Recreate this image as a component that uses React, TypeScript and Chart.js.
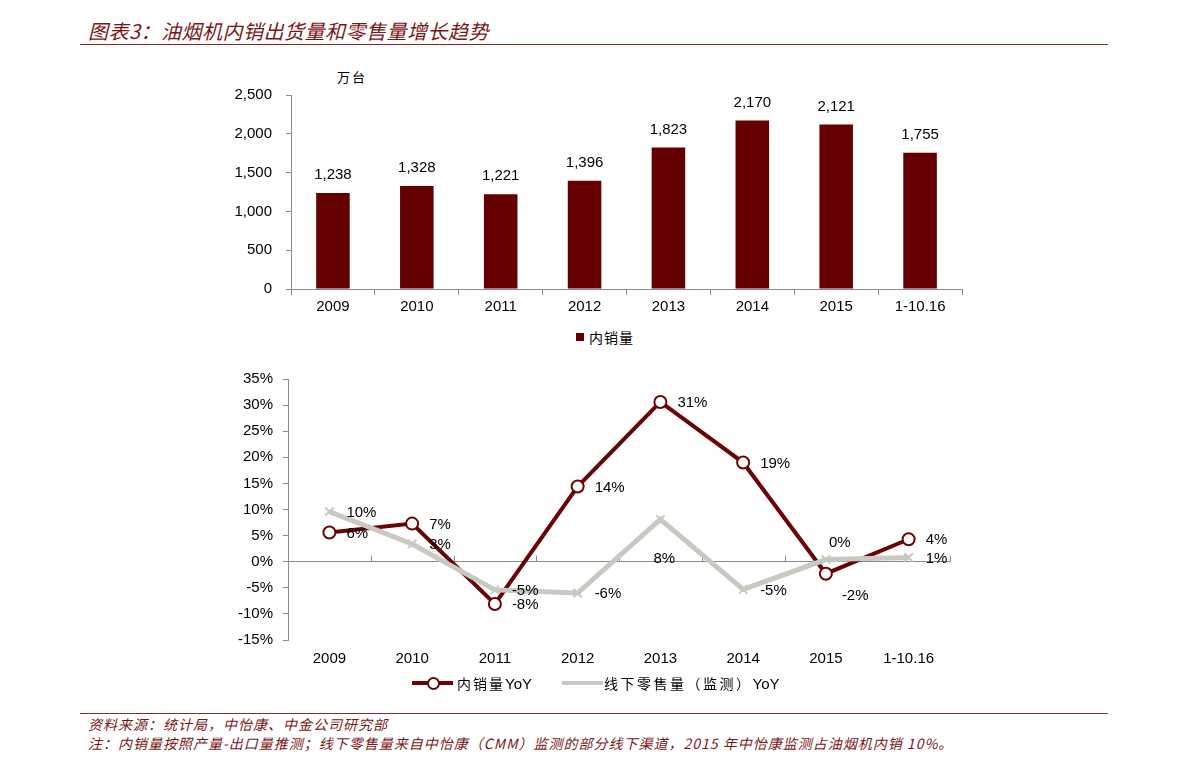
import React, { useEffect, useRef } from "react";
import { Chart, registerables } from "chart.js";

Chart.register(...registerables);

// ---------- data ----------
const categories = ["2009", "2010", "2011", "2012", "2013", "2014", "2015", "1-10.16"];
const domesticSales = [1238, 1328, 1221, 1396, 1823, 2170, 2121, 1755];
const domesticYoY = [5.6, 7.3, -8.1, 14.4, 30.6, 19.0, -2.3, 4.3];
const domesticYoYLabels = ["6%", "7%", "-8%", "14%", "31%", "19%", "-2%", "4%"];
const retailYoY = [9.6, 3.4, -5.4, -6.0, 8.1, -5.3, 0.4, 0.8];
const retailYoYLabels = ["10%", "3%", "-5%", "-6%", "8%", "-5%", "0%", "1%"];
// label placement codes (style only)
const domesticLabelPos = ["r", "r", "r", "r", "r", "r", "b", "r"];
const retailLabelPos = ["r", "r", "r", "r", "bb", "r", "a", "r"];

const DARK_RED = "#650000";
const LINE_RED = "#6A0303";
const GRAY = "#C9C9C1";
const AXIS = "#8A8A8A";
const TEXT_RED = "#7A1616";
const FONT = "'Liberation Sans', Arial, sans-serif";
const CJK = "'Noto Sans CJK SC', 'Noto Sans CJK TC', sans-serif";

const PLACE: Record<string, [number, number]> = {
  r: [17, 1],
  b: [16, 22],
  bb: [-7, 39],
  a: [3, -17],
};

const barLabelPlugin = {
  id: "barLabels",
  afterDatasetsDraw(chart: any) {
    const ctx = chart.ctx;
    const meta = chart.getDatasetMeta(0);
    ctx.save();
    ctx.font = `15px ${FONT}`;
    ctx.fillStyle = "#000";
    ctx.textAlign = "center";
    ctx.textBaseline = "middle";
    meta.data.forEach((el: any, i: number) => {
      ctx.fillText(domesticSales[i].toLocaleString("en-US"), el.x, el.y - 18);
    });
    ctx.restore();
  },
};

const lineLabelPlugin = {
  id: "lineLabels",
  afterDatasetsDraw(chart: any) {
    const ctx = chart.ctx;
    ctx.save();
    ctx.font = `15px ${FONT}`;
    ctx.fillStyle = "#000";
    ctx.textAlign = "left";
    ctx.textBaseline = "middle";
    chart.data.datasets.forEach((ds: any, di: number) => {
      const meta = chart.getDatasetMeta(di);
      const labels: string[] = ds.valueLabels;
      const pos: string[] = ds.labelPos;
      meta.data.forEach((el: any, i: number) => {
        const [dx, dy] = PLACE[pos[i]];
        ctx.fillText(labels[i], el.x + dx, el.y + dy);
      });
    });
    ctx.restore();
  },
};

const zeroTickPlugin = {
  id: "zeroTicks",
  beforeDatasetsDraw(chart: any) {
    const ctx = chart.ctx;
    const x = chart.scales.x;
    const y0 = chart.scales.y.getPixelForValue(0);
    ctx.save();
    ctx.strokeStyle = AXIS;
    ctx.lineWidth = 1;
    ctx.beginPath();
    for (let i = 0; i <= categories.length; i++) {
      const px = Math.round(x.left + (i * (x.right - x.left)) / categories.length) + 0.5;
      ctx.moveTo(px, y0 - 6);
      ctx.lineTo(px, y0);
    }
    ctx.stroke();
    ctx.restore();
  },
};

function BarChart() {
  const ref = useRef<HTMLCanvasElement>(null);
  useEffect(() => {
    const chart = new Chart(ref.current!, {
      type: "bar",
      data: {
        labels: categories,
        datasets: [
          {
            label: "内销量",
            data: domesticSales,
            backgroundColor: DARK_RED,
            barPercentage: 0.4,
            categoryPercentage: 1,
          },
        ],
      },
      options: {
        animation: false,
        responsive: false,
        devicePixelRatio: 1,
        layout: { padding: { top: 38, right: 18, left: 0, bottom: 0 } },
        plugins: { legend: { display: false }, tooltip: { enabled: false } },
        scales: {
          x: {
            afterFit: (s: any) => {
              s.height = 28;
            },
            border: { display: true, color: AXIS },
            grid: { offset: true, drawOnChartArea: false, tickLength: 6, color: AXIS },
            ticks: { color: "#000", font: { family: FONT, size: 15 }, padding: 3, maxRotation: 0 },
          },
          y: {
            min: 0,
            max: 2500,
            afterFit: (s: any) => {
              s.width = 91;
            },
            border: { display: true, color: AXIS },
            grid: { drawOnChartArea: false, tickLength: 5, color: AXIS },
            ticks: {
              stepSize: 500,
              color: "#000",
              font: { family: FONT, size: 15 },
              padding: 14,
              callback: (v: any) => Number(v).toLocaleString("en-US"),
            },
          },
        },
      },
      plugins: [barLabelPlugin],
    });
    return () => chart.destroy();
  }, []);
  return (
    <canvas
      ref={ref}
      width={780}
      height={260}
      style={{ position: "absolute", left: 200, top: 57, width: 780, height: 260 }}
    />
  );
}

function LineChart() {
  const ref = useRef<HTMLCanvasElement>(null);
  useEffect(() => {
    const chart = new Chart(ref.current!, {
      type: "line",
      data: {
        labels: categories,
        datasets: [
          {
            label: "线下零售量（监测）YoY",
            data: retailYoY,
            borderColor: GRAY,
            borderWidth: 5,
            pointStyle: "crossRot",
            pointRadius: 6,
            pointBorderColor: GRAY,
            pointBorderWidth: 2,
            tension: 0,
            valueLabels: retailYoYLabels,
            labelPos: retailLabelPos,
          } as any,
          {
            label: "内销量YoY",
            data: domesticYoY,
            borderColor: LINE_RED,
            borderWidth: 4,
            pointStyle: "circle",
            pointRadius: 6,
            pointBackgroundColor: "#fff",
            pointBorderColor: LINE_RED,
            pointBorderWidth: 2,
            tension: 0,
            valueLabels: domesticYoYLabels,
            labelPos: domesticLabelPos,
          } as any,
        ],
      },
      options: {
        animation: false,
        responsive: false,
        devicePixelRatio: 1,
        layout: { padding: { top: 17, right: 30, left: 0, bottom: 0 } },
        plugins: { legend: { display: false }, tooltip: { enabled: false } },
        scales: {
          x: {
            offset: true,
            afterFit: (s: any) => {
              s.height = 40;
            },
            border: { display: false },
            grid: { display: false, drawTicks: false },
            ticks: { color: "#000", font: { family: FONT, size: 15 }, padding: 10, maxRotation: 0 },
          },
          y: {
            min: -15,
            max: 35,
            afterFit: (s: any) => {
              s.width = 88;
            },
            border: { display: true, color: AXIS },
            grid: {
              color: (c: any) => (c.tick && c.tick.value === 0 ? AXIS : "rgba(0,0,0,0)"),
              tickColor: AXIS,
              tickLength: 5,
            },
            ticks: {
              stepSize: 5,
              color: "#000",
              font: { family: FONT, size: 15 },
              padding: 10,
              callback: (v: any) => `${v}%`,
            },
          },
        },
      },
      plugins: [zeroTickPlugin, lineLabelPlugin],
    });
    return () => chart.destroy();
  }, []);
  return (
    <canvas
      ref={ref}
      width={780}
      height={320}
      style={{ position: "absolute", left: 200, top: 360, width: 780, height: 320 }}
    />
  );
}

const abs = (s: React.CSSProperties): React.CSSProperties => ({ position: "absolute", ...s });

export default function App() {
  return (
    <div style={{ position: "relative", width: 1191, height: 772 }}>
      <div style={{ position: "absolute", left: -8, top: -8, width: 1191, height: 772 }}>
        <div
          style={abs({
            left: 88,
            top: 17,
            fontFamily: CJK,
            fontStyle: "italic",
            fontSize: 20,
            letterSpacing: 0.5,
            color: TEXT_RED,
            whiteSpace: "nowrap",
            lineHeight: "28px",
          })}
        >
          图表3：油烟机内销出货量和零售量增长趋势
        </div>
        <div style={abs({ left: 80, top: 44, width: 1028, height: 1, background: "#8B2A2A" })} />

        <div style={abs({ left: 337, top: 67, fontFamily: CJK, fontSize: 13, color: "#000", letterSpacing: 2 })}>
          万台
        </div>

        <BarChart />

        {/* bar legend */}
        <div style={abs({ left: 576, top: 333, width: 8, height: 8, background: DARK_RED })} />
        <div style={abs({ left: 589, top: 327, fontFamily: CJK, fontSize: 14, lineHeight: "20px", color: "#000", letterSpacing: 1 })}>
          内销量
        </div>

        <LineChart />

        {/* line legend */}
        <div style={abs({ left: 412, top: 681, width: 41, height: 4, background: LINE_RED })} />
        <div
          style={abs({
            left: 427,
            top: 677,
            width: 9,
            height: 9,
            borderRadius: "50%",
            background: "#fff",
            border: `2px solid ${LINE_RED}`,
          })}
        />
        <div style={abs({ left: 457, top: 673, fontFamily: CJK, fontSize: 14, lineHeight: "20px", color: "#000", whiteSpace: "nowrap", letterSpacing: 2 })}>
          内销量<span style={{ fontFamily: FONT, fontSize: 15, letterSpacing: 0 }}>YoY</span>
        </div>
        <div style={abs({ left: 562, top: 681, width: 41, height: 4, background: GRAY })} />
        <div style={abs({ left: 604, top: 673, fontFamily: CJK, fontSize: 14, lineHeight: "20px", color: "#000", whiteSpace: "nowrap", letterSpacing: 2.5 })}>
          线下零售量（监测）<span style={{ fontFamily: FONT, fontSize: 15, letterSpacing: 0 }}>YoY</span>
        </div>

        <div style={abs({ left: 80, top: 713, width: 1028, height: 1, background: "#8B2A2A" })} />
        <div
          style={abs({
            left: 88,
            top: 715,
            fontFamily: CJK,
            fontStyle: "italic",
            fontSize: 14,
            letterSpacing: 1,
            lineHeight: "19px",
            color: TEXT_RED,
            whiteSpace: "nowrap",
          })}
        >
          资料来源：统计局，中怡康、中金公司研究部
          <br />
          注：内销量按照产量-出口量推测；线下零售量来自中怡康（CMM）监测的部分线下渠道，2015 年中怡康监测占油烟机内销 10%。
        </div>
      </div>
    </div>
  );
}
